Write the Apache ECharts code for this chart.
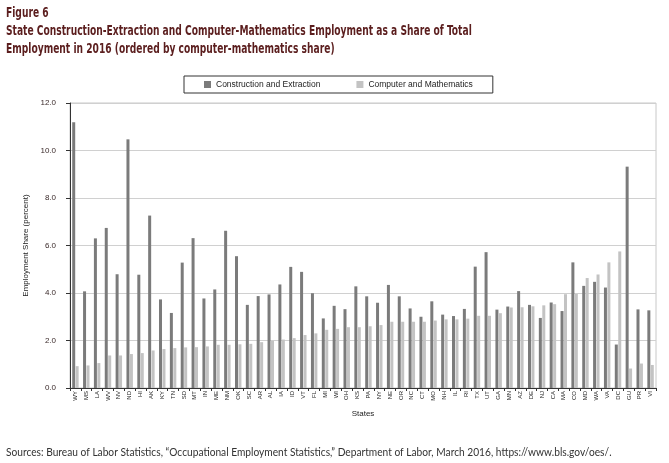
<!DOCTYPE html>
<html>
<head>
<meta charset="utf-8">
<script src="https://cdn.jsdelivr.net/npm/echarts@6/dist/echarts.min.js"></script>
<style>
html,body{margin:0;padding:0;background:#fff;}
#c{width:669px;height:463px;}
</style>
</head>
<body>
<div id="c"></div>
<script>
var states = ["WY","MS","LA","WV","NV","ND","HI","AK","KY","TN","SD","MT","IN","ME","NM","OK","SC","AR","AL","IA","ID","VT","FL","MI","WI","OH","KS","PA","NY","NE","OR","NC","CT","MO","NH","IL","RI","TX","UT","GA","MN","AZ","DE","NJ","CA","MA","CO","MD","WA","VA","DC","GU","PR","VI"];
var construction = [11.19,4.07,6.30,6.74,4.79,10.47,4.77,7.26,3.73,3.16,5.28,6.31,3.77,4.15,6.62,5.55,3.50,3.87,3.94,4.36,5.10,4.89,3.99,2.93,3.46,3.32,4.28,3.86,3.59,4.34,3.86,3.35,3.00,3.65,3.09,3.03,3.33,5.11,5.72,3.30,3.43,4.08,3.50,2.95,3.60,3.24,5.29,4.30,4.47,4.23,1.83,9.32,3.31,3.27];
var computer = [0.92,0.95,1.05,1.37,1.37,1.43,1.47,1.58,1.64,1.68,1.71,1.72,1.75,1.82,1.82,1.84,1.86,1.93,1.99,2.04,2.10,2.23,2.30,2.45,2.49,2.56,2.56,2.60,2.65,2.79,2.79,2.79,2.79,2.84,2.89,2.89,2.92,3.04,3.04,3.15,3.39,3.40,3.44,3.48,3.53,3.95,3.96,4.63,4.78,5.29,5.75,0.82,1.03,0.97];
var yTicks = [0,2,4,6,8,10,12];

var titleFont = "'DejaVu Sans Condensed', Lato, 'Open Sans', sans-serif";
var chart = echarts.init(document.getElementById('c'), null, {renderer:'canvas'});
chart.setOption({
  animation:false,
  backgroundColor:'#fff',
  legend:{
    top:76, left:184, width:300, height:11,
    itemWidth:7, itemHeight:7, itemGap:36,
    padding:[4,20,4,20],
    borderColor:'#333', borderWidth:1,
    icon:'rect',
    textStyle:{fontFamily:'Liberation Sans', fontSize:8.5, color:'#222'},
    data:['Construction and Extraction','Computer and Mathematics']
  },
  grid:{left:70, right:13, top:103, bottom:75, show:true, borderColor:'#c8c8c8', borderWidth:1},
  xAxis:{
    type:'category', data:states,
    name:'States', nameLocation:'middle', nameGap:22,
    nameTextStyle:{fontFamily:'Liberation Sans', fontSize:8, color:'#222'},
    axisLine:{lineStyle:{color:'#333', width:1}},
    axisTick:{show:true, length:3, lineStyle:{color:'#333'}},
    axisLabel:{rotate:90, fontSize:6, fontFamily:'Liberation Sans', color:'#222', margin:3, interval:0}
  },
  yAxis:{
    type:'value', min:0, max:12, interval:2,
    name:'Employment Share (percent)', nameLocation:'middle', nameGap:39,
    nameTextStyle:{fontFamily:'Liberation Sans', fontSize:8, color:'#222'},
    axisLine:{show:true, lineStyle:{color:'#333', width:1}},
    axisTick:{show:true, length:4, lineStyle:{color:'#333'}},
    axisLabel:{fontSize:8, fontFamily:'Liberation Sans', color:'#3a2a2a', margin:14, formatter:function(v){return v.toFixed(1);}},
    splitLine:{show:true, lineStyle:{color:'#d0d0d0', width:1}}
  },
  series:[
    {name:'Construction and Extraction', type:'bar', data:construction, barWidth:3, barGap:'15%', itemStyle:{color:'#7b7b7b'}},
    {name:'Computer and Mathematics', type:'bar', data:computer, barWidth:3, itemStyle:{color:'#c3c3c3'}}
  ],
  graphic:[
    {type:'text', x:6, y:4, scaleX:0.70, style:{text:'Figure 6\nState Construction-Extraction and Computer-Mathematics Employment as a Share of Total\nEmployment in 2016 (ordered by computer-mathematics share)', fontFamily:titleFont, fontWeight:'bold', fontSize:14.5, lineHeight:18, fill:'#5b1e1e'}},
    {type:'text', x:6, y:447, scaleX:0.97, style:{text:'Sources: Bureau of Labor Statistics, \u201COccupational Employment Statistics,\u201D Department of Labor, March 2016, https://www.bls.gov/oes/.', fontFamily:"Lato, 'Open Sans', sans-serif", fontSize:10.5, fill:'#333'}}
  ]
});
</script>
</body>
</html>
